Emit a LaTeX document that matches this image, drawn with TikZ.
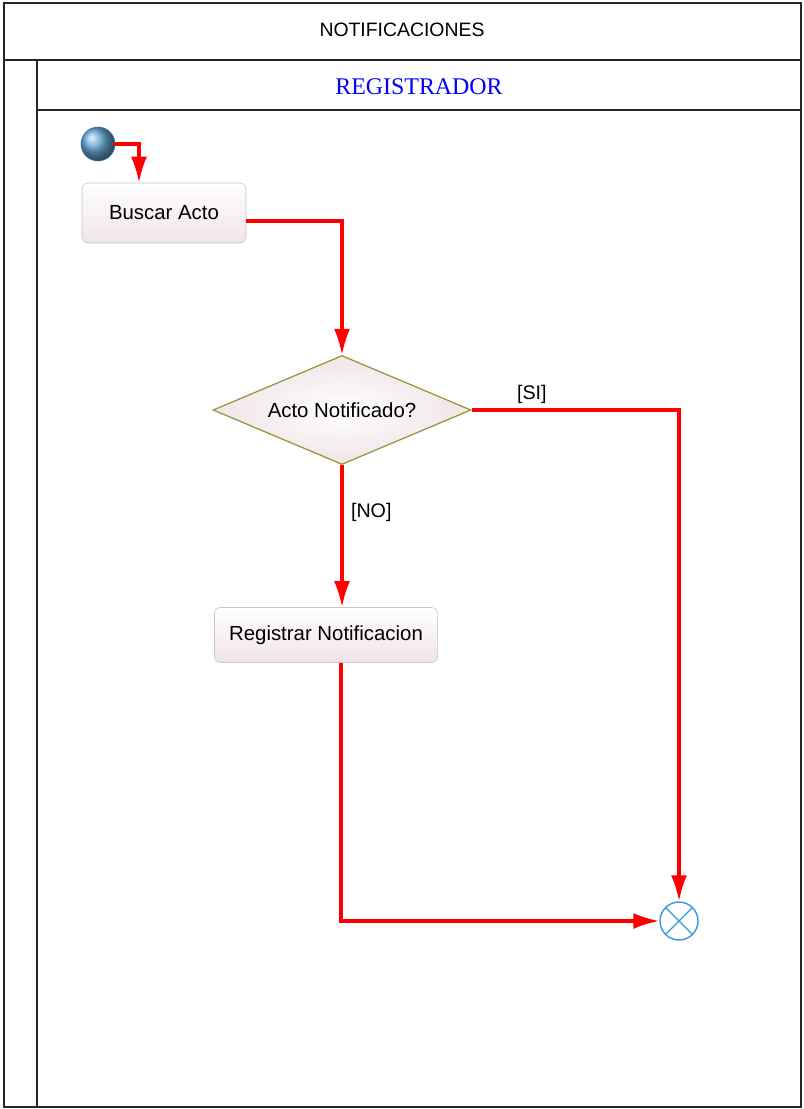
\documentclass[tikz,border=0pt]{standalone}
\usepackage{fontspec}
\setmainfont{Liberation Sans}
\newfontfamily\lanefont{Liberation Serif}
\usetikzlibrary{arrows.meta,shapes.geometric}
\definecolor{boxfill}{RGB}{240,228,231}
\definecolor{endblue}{RGB}{51,153,221}
\definecolor{olive2}{RGB}{150,150,60}

\tikzset{
  flow/.style={draw=red, line width=2.2pt, -{Latex[length=6.5mm,width=4mm]}},
  action/.style={rectangle, rounded corners=4pt, draw=gray!45, top color=white,
    bottom color=boxfill, font=\fontsize{14.5}{17}\selectfont},
  decide/.style={diamond, aspect=2.4, draw=olive2, line width=0.9pt, inner color=white,
    outer color=boxfill, inner sep=0pt, font=\fontsize{14.5}{17}\selectfont},
}

\begin{document}
\begin{tikzpicture}[x=0.025cm, y=-0.025cm]
 \useasboundingbox (0,0) rectangle (803,1109);
 % swimlane frame
 \draw[line width=1.6pt, black!85] (4,3) rectangle (801,1107);
 \draw[line width=1.6pt, black!85] (4,60) -- (801,60);
 \draw[line width=1.2pt, black!85] (37,60) -- (37,1107);
 \draw[line width=1.2pt, black!85] (37,110) -- (801,110);
 \node (title) at (402,30) {\fontsize{13.8}{16}\selectfont NOTIFICACIONES};
 \node (lane) at (419,87) {\lanefont\color{blue}\fontsize{17}{20}\selectfont REGISTRADOR};

 % activity nodes
 \node (start) [circle, minimum size=0.85cm, inner sep=0pt, draw=endblue!80!black,
   shading=ball, ball color={rgb,255:red,105;green,170;blue,215}] at (98,144) {};
 \node (buscar) [action, minimum width=4.1cm, minimum height=1.5cm] at (164,213) {Buscar Acto};
 \node (decision) [decide, minimum width=6.45cm, minimum height=2.725cm] at (342,410) {Acto Notificado?};
 \node (registrar) [action, minimum width=5.575cm, minimum height=1.375cm] at (326,635) {Registrar Notificacion};
 \node (end) [circle, minimum size=0.95cm, inner sep=0pt, draw=endblue, line width=1pt, fill=white,
   path picture={\draw[endblue, line width=0.8pt] (path picture bounding box.north west) -- (path picture bounding box.south east)
     (path picture bounding box.north east) -- (path picture bounding box.south west);}] at (679,921) {};

 % transitions
 \draw[flow] (start.east) -| ([xshift=-0.625cm]buscar.north);
 \draw[flow] ([yshift=-0.2cm]buscar.east) -| (decision.north);
 \draw[flow] (decision.east) -| node[pos=0.145, above, font=\fontsize{14}{16}\selectfont] {[SI]} (end.north);
 \draw[flow] (decision.south) -- node[pos=0.33, right, xshift=2pt, font=\fontsize{14}{16}\selectfont] {[NO]} (decision.south |- registrar.north);
 \draw[flow] ([xshift=0.375cm]registrar.south) |- (end.west);
\end{tikzpicture}
\end{document}
